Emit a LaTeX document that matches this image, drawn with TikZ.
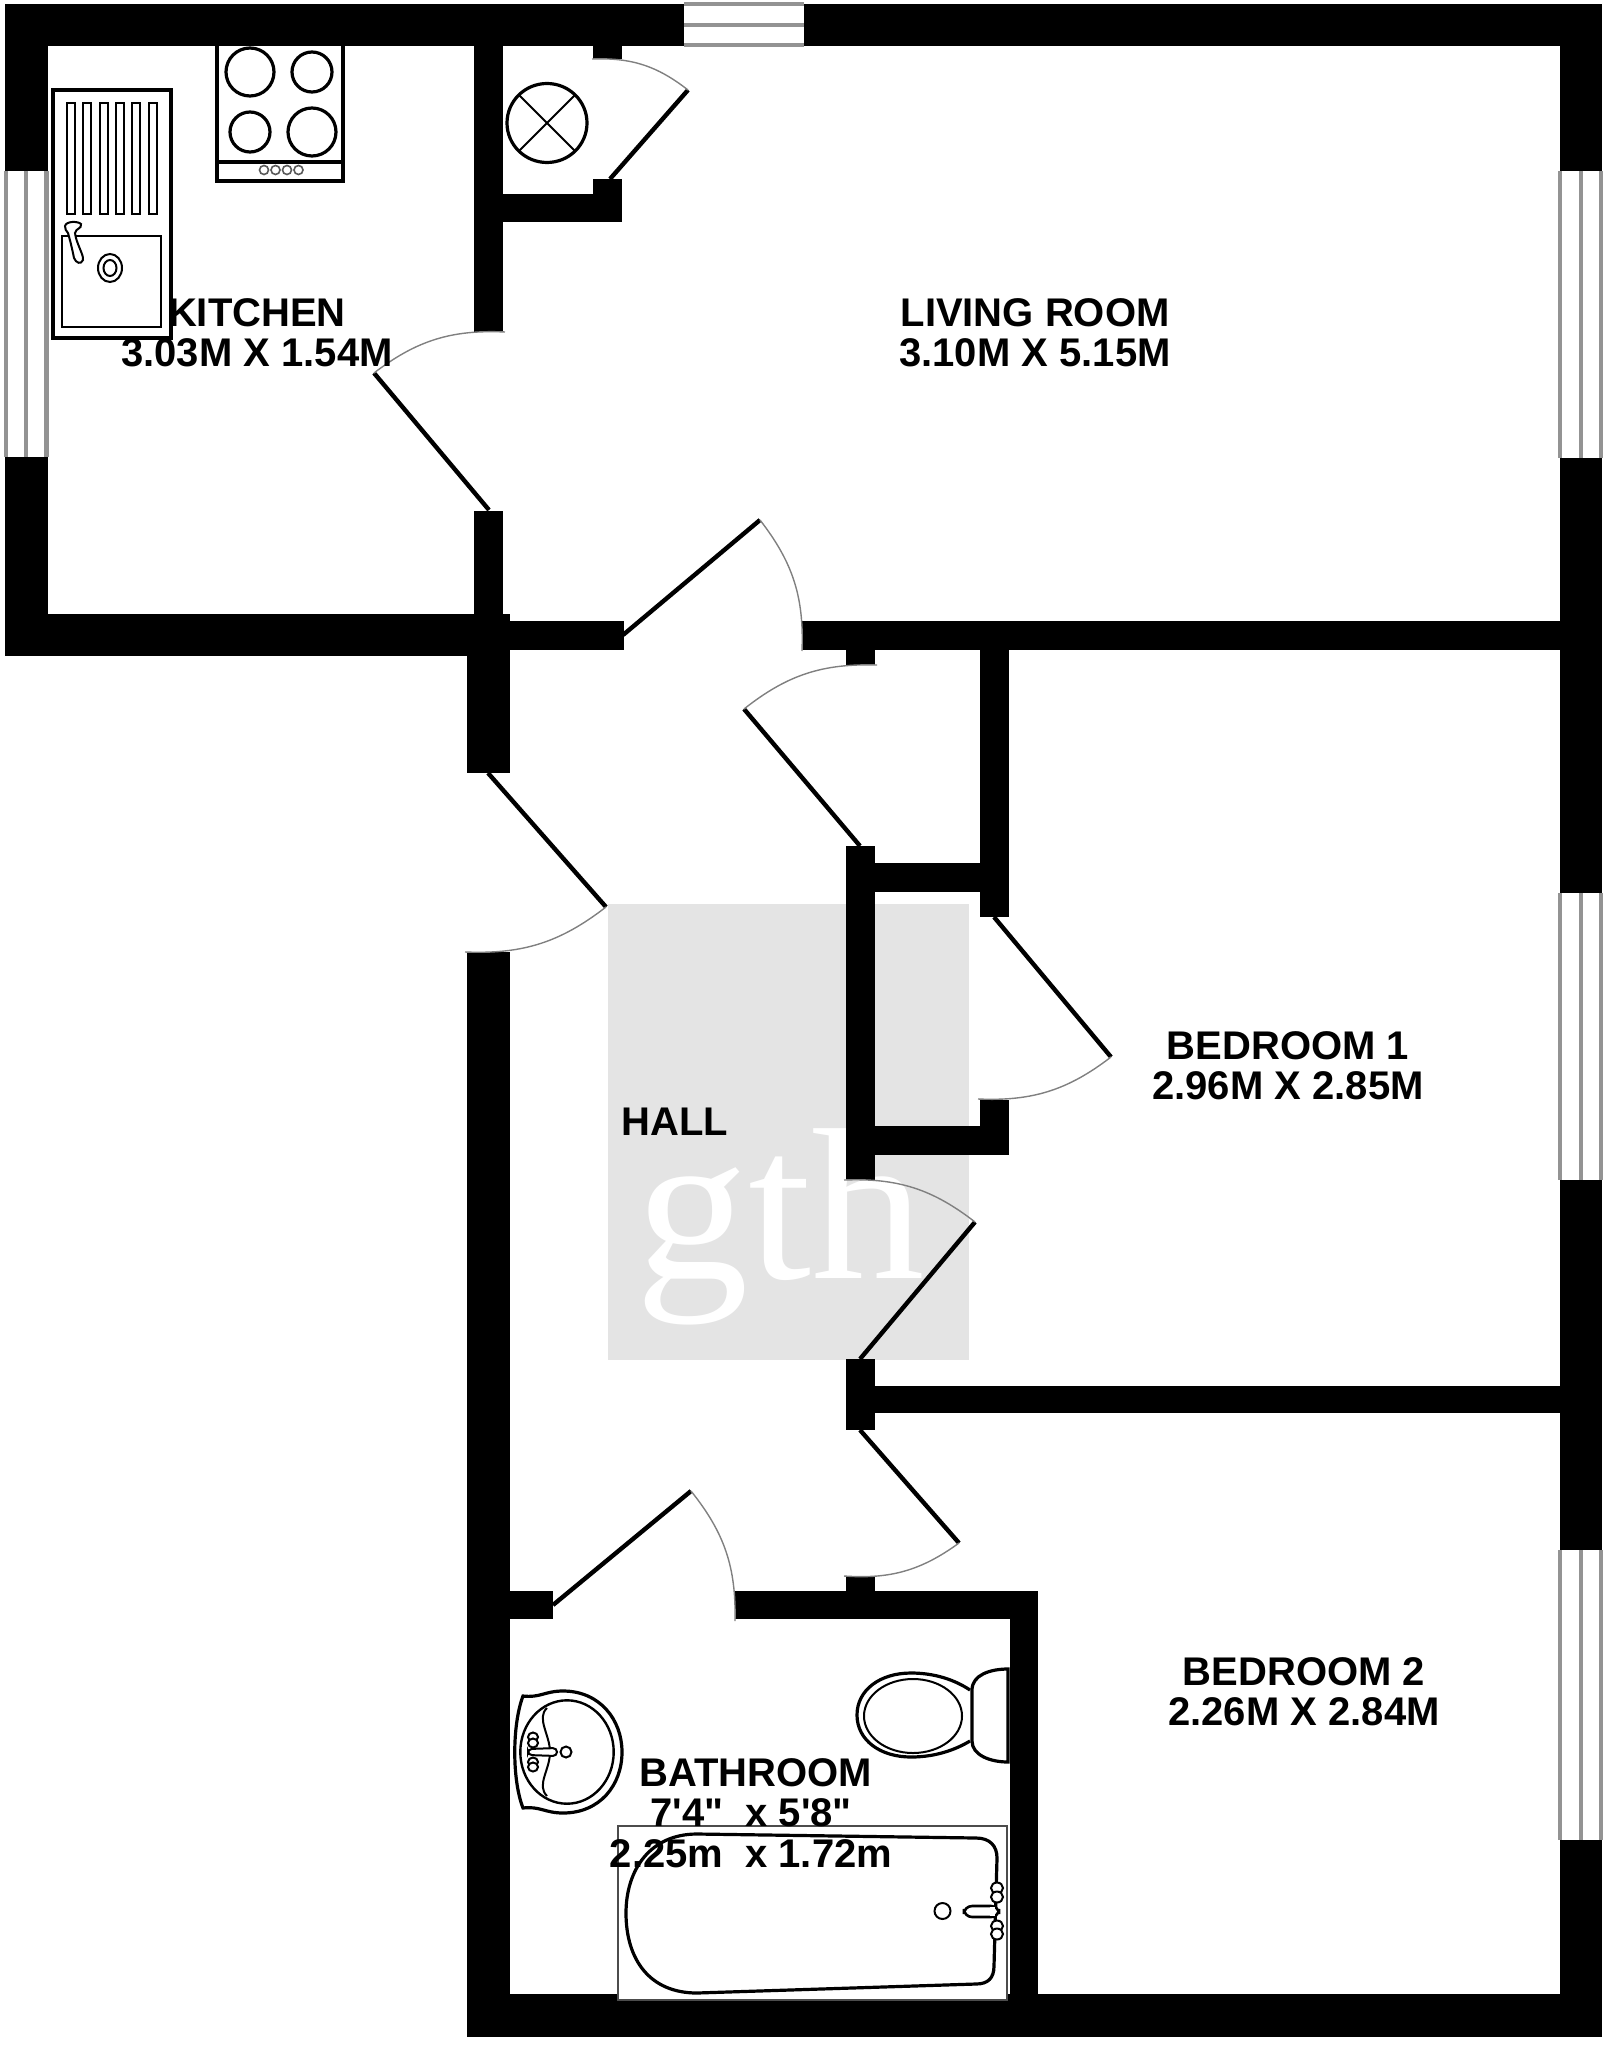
\documentclass[tikz,border=0pt]{standalone}
\usepackage{fontspec}
\newfontfamily\labelfont{Liberation Sans}
\newfontfamily\logofont{Liberation Serif}
\usetikzlibrary{calc,positioning}
\definecolor{logogrey}{HTML}{E4E4E4}
\definecolor{sashgrey}{HTML}{939393}
\tikzset{
	wall/.style={fill=black},
	roomlabel/.style={font=\labelfont\bfseries\fontsize{20}{20.2}\selectfont,align=center,inner sep=0pt},
	sash/.style={draw=sashgrey,line width=2.2pt},
	leaf/.style={draw=black,line width=2.2pt},
	swing/.style={draw=gray,line width=0.7pt},
	fixture/.style={draw=black,line width=1.6pt},
	thinfixture/.style={draw=black,line width=1pt},
}
\begin{document}
\begin{tikzpicture}[x=0.5pt,y=-0.5pt]
	\useasboundingbox (0,0) rectangle (1608,2048);
	% logo square goes under the walls
	\fill[logogrey] (608,904) rectangle (969,1360);
	\node[font=\logofont\fontsize{108}{108}\selectfont,text=white,anchor=base,inner sep=0pt,xscale=1.05] (logo) at (780,1278) {gth};
	% outer walls
	\fill[wall] (5,4) rectangle (1602,46);
	\fill[wall] (5,4) rectangle (47.5,656);
	\fill[wall] (5,614) rectangle (510,656);
	\fill[wall] (1559.5,4) rectangle (1602,2037);
	\fill[wall] (467,1994) rectangle (1602,2037);
	\fill[wall] (467,952) rectangle (510,2037);
	\fill[wall] (467,614) rectangle (510,773);
	% inner walls
	\fill[wall] (474,46) rectangle (503,332);
	\fill[wall] (474,511) rectangle (503,614);
	\fill[wall] (510,621) rectangle (624,650);
	\fill[wall] (802,621) rectangle (1560,650);
	\fill[wall] (593,46) rectangle (622,59);
	\fill[wall] (503,194) rectangle (622,222);
	\fill[wall] (593,179) rectangle (622,222);
	\fill[wall] (846,650) rectangle (875,665);
	\fill[wall] (980,650) rectangle (1009,917);
	\fill[wall] (846,846) rectangle (875,1180);
	\fill[wall] (875,863) rectangle (980,892);
	\fill[wall] (875,1126) rectangle (1009,1155);
	\fill[wall] (980,1100) rectangle (1009,1126);
	\fill[wall] (846,1359) rectangle (875,1430);
	\fill[wall] (875,1386) rectangle (1560,1413);
	\fill[wall] (510,1591) rectangle (553,1619);
	\fill[wall] (735,1591) rectangle (1038,1619);
	\fill[wall] (846,1577) rectangle (875,1591);
	\fill[wall] (1010,1591) rectangle (1038,1994);
	% windows
	\fill[white] (5,171) rectangle (47.5,457);
	\foreach \x in {6,26,46.5} \draw[sash] (\x,171) -- (\x,457);
	\fill[white] (684,4) rectangle (804,46);
	\foreach \y in {4,25,45} \draw[sash] (684,\y) -- (804,\y);
	\foreach \ya/\yb in {171/458,893/1180,1550/1840}{
		\fill[white] (1558,\ya) rectangle (1603,\yb);
		\foreach \x in {1560,1581,1601} \draw[sash] (\x,\ya) -- (\x,\yb);
	}
	% doors
	\draw[leaf] (489,510) -- (374,373);
	\draw[swing] (374,373) to[bend left=20] (505,332);
	\draw[leaf] (610,179) -- (688,90);
	\draw[swing] (592,59) to[bend left=20] (688,90);
	\draw[leaf] (623,635) -- (760,520);
	\draw[swing] (760,520) to[bend left=20] (802,651);
	\draw[leaf] (860,846) -- (744,709);
	\draw[swing] (744,709) to[bend left=20] (877,665);
	\draw[leaf] (488,773) -- (606,907);
	\draw[swing] (606,907) to[bend left=20] (465,952);
	\draw[leaf] (994,917) -- (1111,1057);
	\draw[swing] (1111,1057) to[bend left=20] (978,1099);
	\draw[leaf] (860,1359) -- (975,1222);
	\draw[swing] (975,1222) to[bend right=20] (844,1180);
	\draw[leaf] (860,1430) -- (959,1543);
	\draw[swing] (959,1543) to[bend left=20] (844,1576);
	\draw[leaf] (553,1605) -- (691,1491);
	\draw[swing] (691,1491) to[bend left=20] (735,1621);
	% fan
	\draw[fixture] (547,123) ellipse (40 and 39.5);
	\draw[thinfixture] (519,95) -- (575,151) (575,95) -- (519,151);
	% hob
	\draw[fixture,line width=2pt,fill=white] (217,44) rectangle (343,181);
	\draw[fixture] (217,162) -- (343,162);
	\foreach \x/\y/\r in {250/72/24,312/72/20,250/132/20,312/132/24}
		\draw[fixture] (\x,\y) circle (\r);
	\foreach \x in {264,275.5,287,298.5}
		\draw[draw=gray!70!black,line width=0.8pt] (\x,170) circle (4.5);
	% kitchen sink
	\draw[fixture,line width=2pt,fill=white] (53,90) rectangle (171,338);
	\foreach \x in {67,83.3,99.6,115.9,132.2,148.5}
		\draw[thinfixture] (\x,103) rectangle ++(8,111);
	\draw[thinfixture] (62,236) rectangle (161,327);
	\draw[thinfixture] (110,268) ellipse (12 and 14);
	\draw[thinfixture] (110,268) ellipse (6.5 and 8);
	\draw[thinfixture,fill=white] (65,226) .. controls (66,221) and (78,221) .. (81,224) .. controls (82,229) and (76,228) .. (75,233) .. controls (76,243) and (84,255) .. (83,260) .. controls (81,265) and (76,263) .. (74,258) .. controls (72,248) and (70,240) .. (68,233) .. controls (66,231) and (65,229) .. (65,226) -- cycle;
	% bath
	\draw[draw=gray!60!black,line width=1.1pt,fill=white] (618,1826) rectangle (1007,2000);
	\draw[fixture] (697,1834) -- (976,1838) .. controls (990,1838) and (997,1846) .. (997,1858) -- (994,1966) .. controls (994,1978) and (988,1984) .. (976,1984) -- (697,1993) .. controls (650,1993) and (626,1960) .. (626,1913) .. controls (626,1870) and (650,1834) .. (697,1834) -- cycle;
	\draw[thinfixture] (942.5,1911) circle (8);
	\draw[fixture,line width=1.3pt,fill=white,rounded corners=4pt] (964,1906) -- (999,1906) -- (999,1917) -- (964,1917) -- cycle;
	\draw[white,line width=2.5pt] (992,1907) -- (992,1916);
	\foreach \y in {1888,1897,1926,1934} \draw[thinfixture,fill=white] (997,\y) ellipse (6 and 5.5);
	% basin
	\draw[fixture] (523,1696) .. controls (540,1698) and (545,1691) .. (563,1691) .. controls (600,1691) and (622,1720) .. (622,1752) .. controls (622,1785) and (600,1813) .. (563,1813) .. controls (545,1813) and (540,1806) .. (523,1808) .. controls (512,1780) and (512,1725) .. (523,1696) -- cycle;
	\draw[fixture,line width=1.2pt] (567,1752) ellipse (46.7 and 51.7);
	\draw[thinfixture] (547,1708) .. controls (536,1718) and (550,1735) .. (550,1752) .. controls (550,1770) and (536,1785) .. (547,1796);
	\draw[thinfixture,fill=white,rounded corners=2pt] (528,1749) -- (557,1748) -- (557,1756) -- (528,1755) -- cycle;
	\foreach \y in {1737,1743,1762,1767} \draw[thinfixture,fill=white] (533,\y) ellipse (5 and 4.5);
	\draw[thinfixture] (566,1752) circle (5.5);
	% toilet
	\draw[fixture] (970,1690) .. controls (955,1680) and (935,1673) .. (911,1673) .. controls (880,1673) and (857,1690) .. (857,1715) .. controls (857,1740) and (880,1757) .. (911,1757) .. controls (935,1757) and (955,1750) .. (970,1741);
	\draw[thinfixture] (913,1716) ellipse (49 and 37);
	\draw[fixture,fill=white] (1008,1669) .. controls (990,1669) and (972,1675) .. (972,1690) -- (972,1741) .. controls (972,1755) and (990,1762) .. (1008,1762) -- cycle;
	% room labels
	\node[roomlabel] (kitchen) at (257,333) {KITCHEN\\3.03M X 1.54M};
	\node[roomlabel] (livingroom) at (1035,333) {LIVING ROOM\\3.10M X 5.15M};
	\node[roomlabel] (hall) at (675,1122) {HALL};
	\node[roomlabel] (bedroomone) at (1288,1066) {BEDROOM 1\\2.96M X 2.85M};
	\node[roomlabel] (bedroomtwo) at (1304,1692) {BEDROOM 2\\2.26M X 2.84M};
	\node[roomlabel] (bathroom) at (751,1813) {\hspace*{5pt}BATHROOM\\7'4"~~x 5'8"\\2.25m~~x 1.72m};
\end{tikzpicture}
\end{document}
